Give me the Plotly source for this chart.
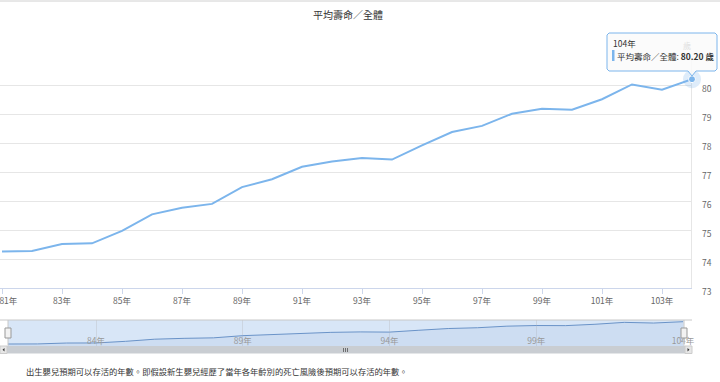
import plotly.graph_objects as go

# ---- data ----
years = list(range(81, 105))
values = [74.26, 74.28, 74.52, 74.54, 74.97, 75.54, 75.77, 75.90, 76.48, 76.75,
          77.18, 77.36, 77.48, 77.43, 77.92, 78.38, 78.59, 79.01, 79.18, 79.15,
          79.51, 80.02, 79.84, 80.20]
x_tick_years = list(range(81, 105, 2))
x_tick_labels = [f"{y}年" for y in x_tick_years]
y_tick_vals = list(range(73, 82))
y_tick_labels = [str(v) if v < 81 else "" for v in y_tick_vals]
nav_tick_years = [84, 89, 94, 99, 104]
nav_tick_labels = [f"{y}年" for y in nav_tick_years]
title_text = "平均壽命／全體"
series_name = "平均壽命／全體"
unit = "歲"
footer_text = "出生嬰兒預期可以存活的年數。即假設新生嬰兒經歷了當年各年齡別的死亡風險後預期可以存活的年數。"

W, H = 720, 382
FONT = "Noto Sans CJK TC, sans-serif"
LINE = "#7cb5ec"


def px(x):
    return x / W


def py(y):
    return 1 - y / H


# first label is pushed inward (as the original chart keeps it inside the edge)
shown_x_labels = list(x_tick_labels)
shown_x_labels[0] = "\u2003\u2002" + shown_x_labels[0]

fig = go.Figure()

# main line
fig.add_trace(go.Scatter(x=years, y=values, mode="lines",
                         line=dict(color=LINE, width=2), xaxis="x", yaxis="y",
                         hoverinfo="skip", showlegend=False))
# hovered point halo + marker
fig.add_trace(go.Scatter(x=[years[-1]], y=[values[-1]], mode="markers",
                         marker=dict(size=18, color="rgba(124,181,236,0.25)"),
                         cliponaxis=False, xaxis="x", yaxis="y",
                         hoverinfo="skip", showlegend=False))
fig.add_trace(go.Scatter(x=[years[-1]], y=[values[-1]], mode="markers",
                         marker=dict(size=7, color=LINE, line=dict(color="#ffffff", width=1)),
                         cliponaxis=False, xaxis="x", yaxis="y",
                         hoverinfo="skip", showlegend=False))
# navigator series
fig.add_trace(go.Scatter(x=years, y=values, mode="lines",
                         line=dict(color="#6a93c8", width=1),
                         fill="tozeroy", fillcolor="rgba(110,150,205,0.10)",
                         xaxis="x2", yaxis="y2", hoverinfo="skip", showlegend=False))

shapes = []
# top page border
shapes.append(dict(type="line", xref="paper", yref="paper", x0=0, x1=1,
                   y0=py(1), y1=py(1), line=dict(color="#d0d0d0", width=1)))
# crosshair
shapes.append(dict(type="line", xref="x", yref="y", x0=years[-1], x1=years[-1],
                   y0=73, y1=81, line=dict(color="#cccccc", width=1), layer="below"))
# navigator mask background
shapes.append(dict(type="rect", xref="paper", yref="paper", x0=px(8), x1=px(684),
                   y0=py(346), y1=py(320), fillcolor="#d8e6f7", line=dict(width=0),
                   layer="below"))
# navigator outline top
shapes.append(dict(type="line", xref="paper", yref="paper", x0=px(0), x1=px(692),
                   y0=py(320), y1=py(320), line=dict(color="#c8c8c8", width=1)))
for hx in (8, 684):
    shapes.append(dict(type="line", xref="paper", yref="paper", x0=px(hx), x1=px(hx),
                       y0=py(346), y1=py(320), line=dict(color="#c8c8c8", width=1)))
    shapes.append(dict(type="rect", xref="paper", yref="paper", x0=px(hx - 3), x1=px(hx + 3),
                       y0=py(338), y1=py(328), fillcolor="#f2f2f2",
                       line=dict(color="#999999", width=1)))
# scrollbar
shapes.append(dict(type="rect", xref="paper", yref="paper", x0=px(0), x1=px(692),
                   y0=py(353.5), y1=py(346), fillcolor="#c9cdd2", line=dict(width=0)))
for bx in (0, 685):
    shapes.append(dict(type="rect", xref="paper", yref="paper", x0=px(bx), x1=px(bx + 7),
                       y0=py(353.5), y1=py(346), fillcolor="#e6e6e6",
                       line=dict(color="#cccccc", width=1)))
shapes.append(dict(type="path", xref="paper", yref="paper",
                   path=f"M {px(4.5)},{py(348)} L {px(2.5)},{py(349.8)} L {px(4.5)},{py(351.5)} Z",
                   fillcolor="#333333", line=dict(width=0)))
shapes.append(dict(type="path", xref="paper", yref="paper",
                   path=f"M {px(687.5)},{py(348)} L {px(689.5)},{py(349.8)} L {px(687.5)},{py(351.5)} Z",
                   fillcolor="#333333", line=dict(width=0)))
for gx in (343.5, 345.5, 347.5):
    shapes.append(dict(type="line", xref="paper", yref="paper", x0=px(gx), x1=px(gx),
                       y0=py(348), y1=py(352), line=dict(color="#555555", width=0.8)))

# tooltip callout
pts = [(609, 33), (715, 33), (717, 35), (717, 69), (715, 71), (696, 71), (692, 76),
       (688, 71), (609, 71), (607, 69), (607, 35)]
path = "M " + " L ".join(f"{px(a)},{py(b)}" for a, b in pts) + " Z"
shapes.append(dict(type="path", xref="paper", yref="paper", path=path,
                   fillcolor="rgba(250,250,250,0.88)", line=dict(color=LINE, width=1)))
shapes.append(dict(type="rect", xref="paper", yref="paper", x0=px(612), x1=px(614.5),
                   y0=py(61), y1=py(50), fillcolor=LINE, line=dict(width=0)))

annotations = [
    dict(text=title_text, x=px(348), y=py(15), xref="paper", yref="paper",
         showarrow=False, xanchor="center", yanchor="middle",
         font=dict(family=FONT, size=10, color="#333333")),
    dict(text=unit, x=px(687), y=py(45.5), xref="paper", yref="paper",
         showarrow=False, xanchor="center", yanchor="middle",
         font=dict(family=FONT, size=8, color="#e0e0e0")),
    dict(text=f"{years[-1]}年", x=px(611), y=py(43.5), xref="paper", yref="paper",
         showarrow=False, xanchor="left", yanchor="middle",
         font=dict(family=FONT, size=8.5, color="#333333")),
    dict(text=f"{series_name}: <b>{values[-1]:.2f} {unit}</b>", x=px(615), y=py(56),
         xref="paper", yref="paper", showarrow=False, xanchor="left", yanchor="middle",
         font=dict(family=FONT, size=8.5, color="#333333")),
    dict(text=footer_text, x=px(24), y=py(370.5), xref="paper", yref="paper",
         showarrow=False, xanchor="left", yanchor="middle",
         font=dict(family=FONT, size=8.3, color="#333333")),
]

fig.update_layout(
    width=W, height=H,
    margin=dict(l=0, r=0, t=0, b=0, autoexpand=False),
    paper_bgcolor="#ffffff", plot_bgcolor="rgba(0,0,0,0)",
    showlegend=False,
    font=dict(family=FONT),
    xaxis=dict(domain=[0, px(692)], range=[81 - 2 / 30, 104], automargin=False,
               tickmode="array", tickvals=x_tick_years, ticktext=shown_x_labels,
               ticks="outside", ticklen=5, tickcolor="#ccd6eb",
               showline=True, linecolor="#ccd6eb", linewidth=1,
               showgrid=False, zeroline=False, anchor="y",
               ticklabeloverflow="allow",
               tickfont=dict(family=FONT, size=8.5, color="#666666")),
    yaxis=dict(domain=[py(288), py(56)], range=[73, 81], side="right", automargin=False,
               tickmode="array", tickvals=y_tick_vals, ticktext=y_tick_labels,
               showgrid=True, gridcolor="#e6e6e6", gridwidth=1,
               zeroline=False, showline=False, ticks="",
               ticklabelstandoff=9, ticklabelshift=4, anchor="x",
               ticklabeloverflow="allow",
               tickfont=dict(family=FONT, size=8.5, color="#666666")),
    xaxis2=dict(domain=[px(8), px(683)], range=[81, 104], anchor="y2", automargin=False,
                tickmode="array", tickvals=nav_tick_years, ticktext=nav_tick_labels,
                ticklabelposition="inside", ticks="",
                ticklabeloverflow="allow", ticklabelstandoff=-3,
                showgrid=True, gridcolor="rgba(200,205,215,0.7)", gridwidth=1,
                showline=False, zeroline=False,
                tickfont=dict(family=FONT, size=8.5, color="#999999")),
    yaxis2=dict(domain=[py(346), py(320)], range=[73.73, 80.65], anchor="x2",
                automargin=False, visible=False, showgrid=False, zeroline=False),
    shapes=shapes,
    annotations=annotations,
)

fig.write_html("out.html", config={"displayModeBar": False, "responsive": False},
               post_script="document.body.style.margin='0';document.body.style.overflow='hidden';")
